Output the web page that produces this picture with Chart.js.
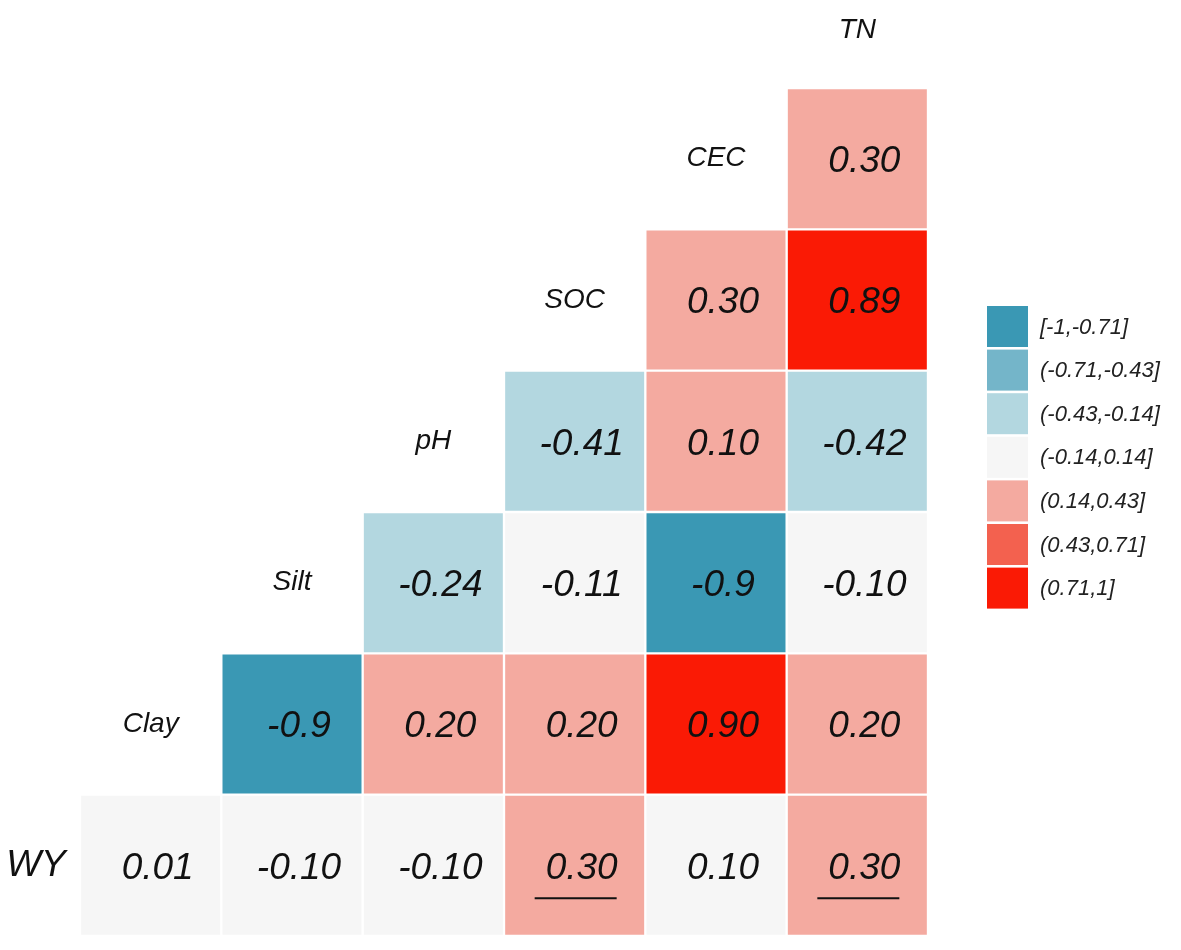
<!DOCTYPE html>
<html lang="en">
<head>
<meta charset="UTF-8">
<title>Correlation</title>
<script src="https://cdn.jsdelivr.net/npm/chart.js"></script>
<style>
  body { margin: 0; background: #fff; }
  #wrap { width: 1181px; height: 950px; }
</style>
</head>
<body>
<div id="wrap"><canvas id="myChart" width="1181" height="950"></canvas></div>
<script>
// columns (left to right) and rows (top to bottom)
var colNames = ['Clay', 'Silt', 'pH', 'SOC', 'CEC', 'TN'];
var rowNames = ['CEC', 'SOC', 'pH', 'Silt', 'Clay', 'WY'];

// correlation values as printed, one array per row (null = empty)
var rowCEC  = [null, null, null, null, null, '0.30'];
var rowSOC  = [null, null, null, null, '0.30', '0.89'];
var rowPH   = [null, null, null, '-0.41', '0.10', '-0.42'];
var rowSilt = [null, null, '-0.24', '-0.11', '-0.9', '-0.10'];
var rowClay = [null, '-0.9', '0.20', '0.20', '0.90', '0.20'];
var rowWY   = ['0.01', '-0.10', '-0.10', '0.30', '0.10', '0.30'];
var rowsData = [rowCEC, rowSOC, rowPH, rowSilt, rowClay, rowWY];

// underlined values in the WY row
var wyUnderline = [false, false, false, true, false, true];

// colour bins
var binBreaks = [-1, -0.71, -0.43, -0.14, 0.14, 0.43, 0.71, 1];
var binLabels = ['[-1,-0.71]', '(-0.71,-0.43]', '(-0.43,-0.14]', '(-0.14,0.14]', '(0.14,0.43]', '(0.43,0.71]', '(0.71,1]'];
var binColors = ['#3a98b4', '#74b5c9', '#b3d7e0', '#f6f6f6', '#f4aaa0', '#f3614f', '#fa1a05'];

// cells whose fill in the figure differs from the printed value: [row, col, bin]
var binOverride = [[2, 4, 4]];

function binColor(v, r, c) {
    for (var k = 0; k < binOverride.length; k++) {
        if (binOverride[k][0] === r && binOverride[k][1] === c) return binColors[binOverride[k][2]];
    }
    for (var i = 1; i < binBreaks.length; i++) {
        if (v <= binBreaks[i]) return binColors[i - 1];
    }
    return binColors[binColors.length - 1];
}

var FONT = '"Liberation Sans", Arial, sans-serif';

var datasets = rowsData.map(function (row, r) {
    return {
        label: rowNames[r],
        data: row.map(function (s) { return s === null ? null : [r, r + 1]; }),
        backgroundColor: row.map(function (s, c) { return s === null ? 'rgba(0,0,0,0)' : binColor(Number(s), r, c); }),
        borderColor: '#ffffff',
        borderWidth: 1.5,
        borderSkipped: false
    };
});

// values, axis names and the legend
var heatText = {
    id: 'heatText',
    afterDatasetsDraw: function (chart) {
        var ctx = chart.ctx, x = chart.scales.x, y = chart.scales.y;
        ctx.save();
        ctx.textAlign = 'center';
        ctx.textBaseline = 'middle';

        // values in the cells
        ctx.fillStyle = '#111';
        rowsData.forEach(function (row, r) {
            row.forEach(function (s, c) {
                if (s === null) return;
                var cx = x.getPixelForValue(c);
                var cy = y.getPixelForValue(r + 0.5);
                ctx.font = 'italic 37px ' + FONT;
                ctx.fillText(s, cx + 7, cy + 3);
                if (r === rowsData.length - 1 && wyUnderline[c]) {
                    ctx.strokeStyle = '#111';
                    ctx.lineWidth = 2;
                    ctx.beginPath();
                    ctx.moveTo(cx - 40, cy + 33);
                    ctx.lineTo(cx + 42, cy + 33);
                    ctx.stroke();
                }
            });
        });

        // variable names on the diagonal
        ctx.font = 'italic 28px ' + FONT;
        for (var r = 0; r < rowNames.length - 1; r++) {
            var c = colNames.indexOf(rowNames[r]);
            ctx.fillText(rowNames[r], x.getPixelForValue(c), y.getPixelForValue(r + 0.5));
        }
        // top column name
        ctx.fillText(colNames[colNames.length - 1], x.getPixelForValue(colNames.length - 1), y.getPixelForValue(-0.41));
        // WY row name
        ctx.font = 'italic 37px ' + FONT;
        ctx.fillText(rowNames[rowNames.length - 1], 36, y.getPixelForValue(rowNames.length - 0.5));

        // legend
        var lx = 987, ly = 306, bs = 41, step = 43.6;
        ctx.textAlign = 'left';
        ctx.font = 'italic 22px ' + FONT;
        binLabels.forEach(function (lab, i) {
            ctx.fillStyle = binColors[i];
            ctx.fillRect(lx, ly + i * step, bs, bs);
            ctx.fillStyle = '#222';
            ctx.fillText(lab, lx + 53, ly + i * step + bs / 2 + 1);
        });
        ctx.restore();
    }
};

new Chart(document.getElementById('myChart'), {
    type: 'bar',
    data: { labels: colNames, datasets: datasets },
    options: {
        responsive: false,
        animation: false,
        devicePixelRatio: 1,
        layout: { padding: { left: 80, right: 253, top: 88, bottom: 14 } },
        datasets: { bar: { grouped: false, barPercentage: 1, categoryPercentage: 1 } },
        scales: {
            x: { display: false },
            y: { display: false, min: 0, max: 6, reverse: true }
        },
        plugins: { legend: { display: false }, tooltip: { enabled: false } }
    },
    plugins: [heatText]
});
</script>
</body>
</html>
